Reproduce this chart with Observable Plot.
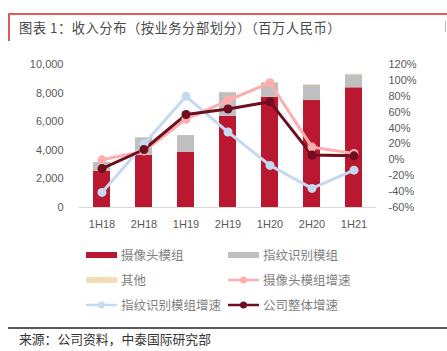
<!DOCTYPE html>
<html><head><meta charset="utf-8">
<script src="https://cdn.jsdelivr.net/npm/d3@7"></script>
<script src="https://cdn.jsdelivr.net/npm/@observablehq/plot@0.6"></script>
<style>
body{margin:0;width:447px;height:351px;position:relative;background:#fff;overflow:hidden;font-family:"Noto Sans CJK SC","Liberation Sans",sans-serif;}
.abs{position:absolute;}
.lg{position:absolute;font-size:12.5px;color:#7f7f7f;line-height:14px;white-space:nowrap;}
.lg svg{position:absolute;left:0;top:0;}
.lg span{position:absolute;top:0;}
</style></head><body>
<div class="abs" style="left:8px;top:13px;width:439px;height:2px;background:#E05A5F"></div>
<div class="abs" style="left:8px;top:13px;width:2px;height:28px;background:#E05A5F"></div>
<div class="abs" style="left:445px;top:21px;width:1px;height:11px;background:#bbb"></div>
<div class="abs" style="left:19px;top:19px;font-size:13.3px;letter-spacing:0.5px;color:#4a4a4a;line-height:17px;white-space:nowrap">图表 1：收入分布（按业务分部划分）（百万人民币）</div>
<div id="chart" class="abs" style="left:0;top:50px"></div>
<div id="legend"></div>
<div class="abs" style="left:8px;top:327px;width:439px;height:2px;background:#595959"></div>
<div class="abs" style="left:19px;top:331px;font-size:12.8px;color:#333;line-height:16px;white-space:nowrap">来源：公司资料，中泰国际研究部</div>
<script>
const categories = ["1H18","2H18","1H19","2H19","1H20","2H20","1H21"];
const cameraModule = [2540, 3640, 3870, 6380, 7710, 7480, 8370];
const fingerprintModule = [610, 1230, 1160, 1650, 1010, 1050, 910];
const others = [0, 0, 0, 30, 20, 60, 50];
const cameraGrowth = [0, 11, 51, 75, 97, 16, 8];
const fingerprintGrowth = [-41, 20, 80, 35, -7, -36, -13];
const totalGrowth = [-11, 13, 57, 64, 73, 6, 5];
const barSeries = ["摄像头模组","指纹识别模组","其他"];
const lineSeries = ["摄像头模组增速","指纹识别模组增速","公司整体增速"];
const leftTicks = [0, 2000, 4000, 6000, 8000, 10000];
const rightTicks = [-60, -40, -20, 0, 20, 40, 60, 80, 100, 120];

const barColors = ["#BA1830", "#BFBFBF", "#F2DDB6"];
const lineColors = ["#FFADAD", "#C5DAEF", "#6E0E1F"];

const toLeft = p => (p + 60) / 180 * 10000;
const fromLeft = v => Math.round(v * 180 / 10000 - 60);

const barData = [];
[cameraModule, fingerprintModule, others].forEach((arr, s) => arr.forEach((v, i) => barData.push({cat: categories[i], series: barSeries[s], value: v})));
const lineData = [cameraGrowth, fingerprintGrowth, totalGrowth].map((arr, s) => arr.map((p, i) => ({cat: categories[i], series: lineSeries[s], pct: p})));

const plot = Plot.plot({
  width: 447, height: 185,
  marginLeft: 79, marginRight: 71, marginTop: 14, marginBottom: 28,
  style: {fontFamily: "Liberation Sans, sans-serif", fontSize: "11px", color: "#595959", background: "transparent"},
  x: {domain: categories, paddingInner: 0.6, paddingOuter: 0.3, axis: null},
  y: {domain: [0, 10000], axis: null},
  color: {domain: barSeries, range: barColors},
  marks: [
    Plot.barY(barData, {x: "cat", y: "value", fill: "series", order: barSeries}),
    Plot.ruleY([0], {stroke: "#D9D9D9", strokeWidth: 1}),
    ...lineData.map((d, s) => Plot.line(d, {x: "cat", y: r => toLeft(r.pct), stroke: lineColors[s], strokeWidth: 3})),
    ...lineData.map((d, s) => Plot.dot(d, {x: "cat", y: r => toLeft(r.pct), fill: lineColors[s], r: 4.5})),
    Plot.axisX({tickSize: 0, tickPadding: 13, fill: "#595959", fontSize: 11, label: null}),
    Plot.axisY(leftTicks, {anchor: "left", tickSize: 0, tickPadding: 16, tickFormat: d3.format(","), fill: "#595959", fontSize: 11, label: null}),
    Plot.axisY(rightTicks.map(toLeft), {anchor: "right", tickSize: 0, tickPadding: 12, tickFormat: v => fromLeft(v) + "%", fill: "#595959", fontSize: 11, label: null})
  ]
});
document.getElementById("chart").appendChild(plot);

// legend
const legendItems = [
  {label: barSeries[0], kind: "bar", color: barColors[0], x: 86, y: 248},
  {label: barSeries[1], kind: "bar", color: barColors[1], x: 228, y: 248},
  {label: barSeries[2], kind: "bar", color: barColors[2], x: 86, y: 273},
  {label: lineSeries[0], kind: "line", color: lineColors[0], x: 228, y: 273},
  {label: lineSeries[1], kind: "line", color: lineColors[1], x: 86, y: 298},
  {label: lineSeries[2], kind: "line", color: lineColors[2], x: 228, y: 298}
];
const leg = document.getElementById("legend");
legendItems.forEach(it => {
  const div = document.createElement("div");
  div.className = "lg";
  div.style.left = it.x + "px";
  div.style.top = it.y + "px";
  div.style.width = "150px";
  div.style.height = "14px";
  const sw = it.kind === "bar"
    ? `<svg width="32" height="14"><rect x="0" y="4" width="31" height="6" fill="${it.color}"/></svg>`
    : `<svg width="32" height="14"><line x1="0" x2="31" y1="7" y2="7" stroke="${it.color}" stroke-width="2.5"/><circle cx="15.5" cy="7" r="3.5" fill="${it.color}"/></svg>`;
  div.innerHTML = sw + `<span style="left:35px">${it.label}</span>`;
  leg.appendChild(div);
});
</script>
</body></html>
